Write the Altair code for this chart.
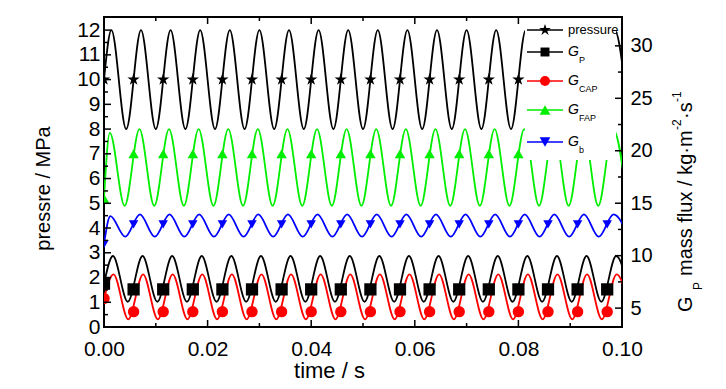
import altair as alt
import pandas as pd

# ---------------- values ----------------
PERIOD = 1 / 175.0            # s : 17.5 oscillation cycles between 0 and 0.1 s

series_names = ["pressure", "G_P", "G_CAP", "G_FAP", "G_b"]

# value at t = 0
start_values = [10.0, 1.75, 1.15, 5.2, 3.35]
# small time lag of each curve's extrema relative to the pressure curve (s)
curve_lags = [0.0, 0.0003, 0.0004, -0.0003, -0.0002]

# successive peaks (one per period) and troughs (one per period)
pressure_peaks = [12.0, 12.0, 12.0, 12.0, 12.0, 12.0, 12.0, 12.0, 12.0,
                  12.0, 12.0, 12.0, 12.0, 12.0, 12.0, 12.0, 12.0, 12.0]
pressure_troughs = [8.0, 8.0, 8.0, 8.0, 8.0, 8.0, 8.0, 8.0, 8.0,
                    8.0, 8.0, 8.0, 8.0, 8.0, 8.0, 8.0, 8.0, 8.0]
gp_peaks = [2.87, 2.87, 2.87, 2.87, 2.87, 2.87, 2.87, 2.87, 2.87,
            2.87, 2.87, 2.87, 2.87, 2.87, 2.87, 2.87, 2.87, 2.87]
gp_troughs = [1.02, 1.02, 1.02, 1.02, 1.02, 1.02, 1.02, 1.02, 1.02,
              1.02, 1.02, 1.02, 1.02, 1.02, 1.02, 1.02, 1.02, 1.02]
gcap_peaks = [2.13, 2.13, 2.13, 2.13, 2.13, 2.13, 2.13, 2.13, 2.13,
              2.13, 2.13, 2.13, 2.13, 2.13, 2.13, 2.13, 2.13, 2.13]
gcap_troughs = [0.31, 0.31, 0.31, 0.31, 0.31, 0.31, 0.31, 0.31, 0.31,
                0.31, 0.31, 0.31, 0.31, 0.31, 0.31, 0.31, 0.31, 0.31]
gfap_peaks = [7.85, 8.0, 8.0, 8.0, 8.0, 8.0, 8.0, 8.0, 8.0,
              8.0, 8.0, 8.0, 8.0, 8.0, 8.0, 8.0, 8.0, 8.0]
gfap_troughs = [4.9, 4.9, 4.9, 4.9, 4.9, 4.9, 4.9, 4.9, 4.9,
                4.9, 4.9, 4.9, 4.9, 4.9, 4.9, 4.9, 4.9, 4.9]
gb_peaks = [4.48, 4.55, 4.55, 4.55, 4.55, 4.55, 4.55, 4.55, 4.55,
            4.55, 4.55, 4.55, 4.55, 4.55, 4.55, 4.55, 4.55, 4.55]
gb_troughs = [3.65, 3.65, 3.65, 3.65, 3.65, 3.65, 3.65, 3.65, 3.65,
              3.65, 3.65, 3.65, 3.65, 3.65, 3.65, 3.65, 3.65, 3.65]

# symbol values, one symbol per period starting at t = 0
pressure_marks = [10.0, 10.0, 10.0, 10.0, 10.0, 10.0, 10.0, 10.0, 10.0,
                  10.0, 10.0, 10.0, 10.0, 10.0, 10.0, 10.0, 10.0, 10.0]
gp_marks = [1.75, 1.52, 1.52, 1.52, 1.52, 1.52, 1.52, 1.52, 1.52,
            1.52, 1.52, 1.52, 1.52, 1.52, 1.52, 1.52, 1.52, 1.52]
gcap_marks = [1.15, 0.62, 0.62, 0.62, 0.62, 0.62, 0.62, 0.62, 0.62,
              0.62, 0.62, 0.62, 0.62, 0.62, 0.62, 0.62, 0.62, 0.62]
gfap_marks = [5.2, 7.0, 7.0, 7.0, 7.0, 7.0, 7.0, 7.0, 7.0,
              7.0, 7.0, 7.0, 7.0, 7.0, 7.0, 7.0, 7.0, 7.0]
gb_marks = [3.35, 4.15, 4.15, 4.15, 4.15, 4.15, 4.15, 4.15, 4.15,
            4.15, 4.15, 4.15, 4.15, 4.15, 4.15, 4.15, 4.15, 4.15]

x_major = [0.0, 0.02, 0.04, 0.06, 0.08, 0.10]
x_minor = [0.01, 0.03, 0.05, 0.07, 0.09]
left_major = [0, 1, 2, 3, 4, 5, 6, 7, 8, 9, 10, 11, 12]
left_minor = [0.5, 1.5, 2.5, 3.5, 4.5, 5.5, 6.5, 7.5, 8.5, 9.5, 10.5, 11.5]
right_major = [5, 10, 15, 20, 25, 30]
right_minor = [7.5, 12.5, 17.5, 22.5, 27.5]

legend_labels = ["pressure", "G", "G", "G", "G"]
legend_subs = ["", "P", "CAP", "FAP", "b"]

# ---------------- styles / layout ----------------
STAR = ("M0,-1L0.225,-0.309L0.951,-0.309L0.363,0.118L0.588,0.809L0,0.382"
        "L-0.588,0.809L-0.363,0.118L-0.951,-0.309L-0.225,-0.309Z")
colors = ["#000000", "#000000", "#ff0000", "#00ee00", "#0000ff"]
shapes = [STAR, "square", "circle", "triangle-up", "triangle-down"]
sym_sizes = [170, 90, 115, 130, 130]
leg_sizes = [150, 80, 100, 115, 115]
FONT = "Liberation Sans"
W, H = 518, 310

peaks = [pressure_peaks, gp_peaks, gcap_peaks, gfap_peaks, gb_peaks]
troughs = [pressure_troughs, gp_troughs, gcap_troughs, gfap_troughs, gb_troughs]
marks = [pressure_marks, gp_marks, gcap_marks, gfap_marks, gb_marks]

curve_rows = []
for i, name in enumerate(series_names):
    curve_rows.append({"series": name, "t": 0.0, "v": start_values[i]})
    for m in range(2 * len(peaks[i])):
        t = (2 * m + 1) * PERIOD / 4 + curve_lags[i]
        v = peaks[i][m // 2] if m % 2 == 0 else troughs[i][m // 2]
        curve_rows.append({"series": name, "t": t, "v": v})
curve_df = pd.DataFrame(curve_rows)

mark_rows = []
for i, name in enumerate(series_names):
    for k, v in enumerate(marks[i]):
        mark_rows.append({"series": name, "t": k * PERIOD, "v": v})
mark_df = pd.DataFrame(mark_rows)

x_scale = alt.Scale(domain=[0, 0.1], nice=False, zero=False)
y_dom = [0, 12.53]
yr_dom = [3.2, 32.75]

x_axis = alt.Axis(values=x_major, format=".2f", ticks=False, domain=False, grid=False,
                  labelFont=FONT, labelFontSize=21, labelPadding=11, labelFlush=False,
                  labelOverlap=False, labelColor="black",
                  title="time / s", titleFont=FONT, titleFontSize=22,
                  titleFontWeight="normal", titleColor="black",
                  titleX=225, titleY=50, titleAlign="center", titleBaseline="alphabetic")
y_axis = alt.Axis(values=left_major, format="d", ticks=False, domain=False, grid=False,
                  labelFont=FONT, labelFontSize=21, labelPadding=4, labelFlush=False,
                  labelOverlap=False, labelColor="black",
                  title="pressre / MPa", titleFont=FONT, titleFontSize=20,
                  titleFontWeight="normal", titleColor="black", titleAngle=270,
                  titleX=-55, titleY=171, titleAlign="center", titleBaseline="alphabetic")
yr_axis = alt.Axis(orient="right", values=right_major, format="d", ticks=False, domain=False,
                   grid=False, labelFont=FONT, labelFontSize=20, labelPadding=8,
                   labelFlush=False, labelOverlap=False, labelColor="black", title=None)

X = alt.X("t:Q", scale=x_scale, axis=x_axis)


def Yl(show_axis=False):
    return alt.Y("v:Q", scale=alt.Scale(domain=y_dom, nice=False, zero=False),
                 axis=y_axis if show_axis else None)


color_enc = alt.Color("series:N", scale=alt.Scale(domain=series_names, range=colors), legend=None)

layers = []
layers.append(alt.Chart(curve_df).mark_line(interpolate="monotone", clip=True, strokeWidth=1.8).encode(
    x=X, y=Yl(True), color=color_enc, order=alt.Order("t:Q")))

layers.append(alt.Chart(mark_df).mark_point(filled=True, opacity=1, clip=True).encode(
    x=X, y=Yl(), color=color_enc,
    shape=alt.Shape("series:N", scale=alt.Scale(domain=series_names, range=shapes), legend=None),
    size=alt.Size("series:N", scale=alt.Scale(domain=series_names, range=sym_sizes), legend=None)))

for vals, y0, y1 in [(x_major, H, H - 7), (x_minor, H, H - 4), (x_major, 0, 7), (x_minor, 0, 4)]:
    layers.append(alt.Chart(pd.DataFrame({"t": vals})).mark_rule(color="black", strokeWidth=1.5).encode(
        x=X, y=alt.value(y0), y2=alt.value(y1)))
for vals, x0, x1 in [(left_major, 0, 7), (left_minor, 0, 4)]:
    layers.append(alt.Chart(pd.DataFrame({"v": vals})).mark_rule(color="black", strokeWidth=1.5).encode(
        y=Yl(), x=alt.value(x0), x2=alt.value(x1)))

# ---- hand-drawn legend (labels need subscripts) ----
one = pd.DataFrame({"a": [0]})
layers.append(alt.Chart(one).mark_rect(fill="white").encode(
    x=alt.value(421), x2=alt.value(512), y=alt.value(1), y2=alt.value(143)))
leg_y = [13, 35, 64, 93, 125]
for i in range(5):
    ly = leg_y[i]
    layers.append(alt.Chart(one).mark_rule(strokeWidth=1.6, color=colors[i]).encode(
        x=alt.value(423), x2=alt.value(459), y=alt.value(ly)))
    layers.append(alt.Chart(one).mark_point(filled=True, opacity=1, color=colors[i],
                                            shape=shapes[i], size=leg_sizes[i]).encode(
        x=alt.value(441), y=alt.value(ly)))
    if legend_subs[i] == "":
        layers.append(alt.Chart(one).mark_text(align="left", baseline="middle", font=FONT,
                                               fontSize=13, color="black",
                                               text=legend_labels[i]).encode(
            x=alt.value(464), y=alt.value(ly)))
    else:
        layers.append(alt.Chart(one).mark_text(align="left", baseline="middle", font=FONT,
                                               fontSize=14, fontStyle="italic", color="black",
                                               text=legend_labels[i]).encode(
            x=alt.value(464), y=alt.value(ly)))
        layers.append(alt.Chart(one).mark_text(align="left", baseline="middle", font=FONT,
                                               fontSize=9, color="black",
                                               text=legend_subs[i]).encode(
            x=alt.value(475), y=alt.value(ly + 8)))

# ---- right axis title with sub/superscripts ----
rt_parts = [("G", 588, 295, 20), ("P", 598, 273, 12), ("mass flux / kg·m", 588, 259, 20),
            ("-2", 577, 113, 12), ("·s", 588, 102, 20), ("-1", 577, 85, 12)]
for txt, px, py, fs in rt_parts:
    layers.append(alt.Chart(one).mark_text(angle=270, align="left", baseline="alphabetic",
                                           font=FONT, fontSize=fs, color="black", text=txt).encode(
        x=alt.value(px), y=alt.value(py)))

# ---- right axis (independent scale) ----
yr_first = True
for vals, x1 in [(right_major, W - 7), (right_minor, W - 4)]:
    layers.append(alt.Chart(pd.DataFrame({"v": vals})).mark_rule(color="black", strokeWidth=1.5).encode(
        y=alt.Y("v:Q", scale=alt.Scale(domain=yr_dom, nice=False, zero=False),
                axis=yr_axis if yr_first else None),
        x=alt.value(W), x2=alt.value(x1)))
    yr_first = False

chart = alt.layer(*layers).resolve_scale(y="independent").properties(
    width=W, height=H,
    padding={"left": 96, "top": 9, "right": 96, "bottom": 54},
    autosize=alt.AutoSizeParams(type="none"),
    background="white",
).configure_view(stroke="black", strokeWidth=2)

chart.save("out.html", embed_options={"renderer": "svg", "actions": False})
